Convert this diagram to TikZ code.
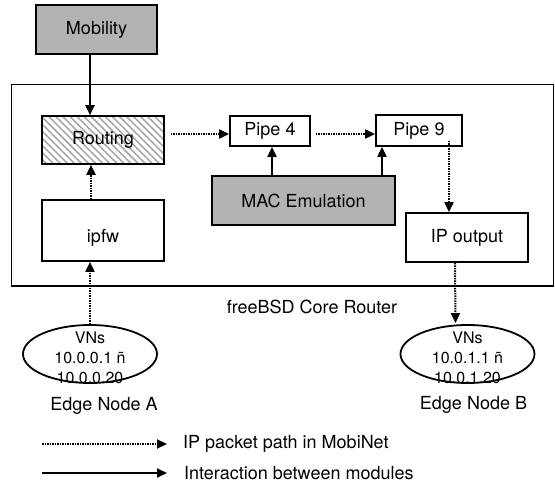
\documentclass[tikz,border=0pt]{standalone}
\usepackage{fontspec}
\setmainfont{TeX Gyre Heros}
\usetikzlibrary{arrows.meta,patterns.meta,shapes.geometric,calc}
\definecolor{boxgray}{HTML}{B3B3B3}
\definecolor{hatchgray}{HTML}{A8A8A8}
\tikzset{
  modbox/.style={draw=black,line width=1.8pt,rectangle,inner sep=0pt,font=\fontsize{18}{21}\selectfont},
  graybox/.style={modbox,fill=boxgray},
  hatchbox/.style={modbox,pattern={Lines[angle=-45,distance=5pt,line width=1.6pt]},pattern color=hatchgray},
  tip/.style={-{Triangle[length=10pt,width=9pt]}},
  solidarrow/.style={tip,line width=2pt},
  dotarrow/.style={tip,line width=2pt,dash pattern=on 1.5pt off 1pt},
  vnell/.style={draw=black,line width=1.8pt,ellipse,minimum width=134pt,minimum height=58pt,inner sep=0pt},
  vntext/.style={align=center,inner sep=0pt,font=\fontsize{16}{20}\selectfont},
  plain/.style={inner sep=0pt,font=\fontsize{18}{21}\selectfont}
}
\begin{document}
\begin{tikzpicture}[x=1pt,y=-1pt]
\useasboundingbox (0,0) rectangle (555,485);
% router frame
\draw[line width=1.9pt] (11.5,84.5) rectangle (553.5,286);
% modules
\node[graybox,minimum width=121pt,minimum height=49pt] (mob) at (96.5,29.5) {Mobility};
\node[hatchbox,minimum width=122pt,minimum height=48pt] (rout) at (103,140) {Routing};
\node[modbox,minimum width=122pt,minimum height=61pt,label={[plain,yshift=-7pt]center:ipfw}] (ipfw) at (103,230.5) {};
\node[modbox,minimum width=80pt,minimum height=30pt] (p4) at (270,131) {Pipe 4};
\node[modbox,minimum width=86pt,minimum height=31pt] (p9) at (419,130.5) {Pipe 9};
\node[graybox,minimum width=183pt,minimum height=49pt] (mac) at (303.5,200.5) {MAC Emulation};
\node[modbox,minimum width=122pt,minimum height=49pt] (ipo) at (467,237.5) {IP output};
\node[plain] (core) at (312,307) {freeBSD Core Router};
% edge nodes
\node[vnell] (ea) at (90,354) {};
\node[vntext] (eat) at (90,357.5) {VNs\\10.0.0.1 ñ\\10.0.0.20};
\node[plain] (eal) at (104,406) {Edge Node A};
\node[vnell] (eb) at (467.5,354) {};
\node[vntext] (ebt) at (467.5,357.5) {VNs\\10.0.1.1 ñ\\10.0.1.20};
\node[plain] (ebl) at (473.5,405) {Edge Node B};
% connectors
\draw[solidarrow] ([xshift=-13pt]rout.north |- mob.south) -- ([xshift=-13pt]rout.north);
\draw[dotarrow] ([xshift=-12pt]ipfw.north) -- ([xshift=-12pt]rout.south);
\draw[dotarrow] ([xshift=6pt,yshift=-3pt]rout.east |- p4.west) -- ([yshift=-3pt]p4.west);
\draw[dotarrow] ([xshift=5pt,yshift=-3pt]p4.east) -- ([yshift=-3.5pt]p9.west);
\draw[solidarrow] ([xshift=2pt]p4.south |- mac.north) -- ([xshift=2pt]p4.south);
\draw[solidarrow] ([xshift=-37pt]p9.south |- mac.north) -- ([xshift=-37pt]p9.south);
\draw[dotarrow] ([xshift=-18pt,yshift=6pt]ipo.north |- p9.south) -- ([xshift=-18pt]ipo.north);
\draw[dotarrow] ([xshift=-12pt]ipo.south) -- ([xshift=-12pt,yshift=1pt]eb.north);
\draw[dotarrow] (ea.north) -- (ea.north |- ipfw.south);
% legend
\coordinate (l1s) at (42,444);
\coordinate (l1e) at (167,444);
\coordinate (l2s) at (42,473);
\coordinate (l2e) at (167,473);
\draw[dotarrow] (l1s) -- (l1e);
\draw[solidarrow] (l2s) -- (l2e);
\node[plain,anchor=west] (lt1) at (183,444) {IP packet path in MobiNet};
\node[plain,anchor=west] (lt2) at (184,473) {Interaction between modules};
\end{tikzpicture}
\end{document}
